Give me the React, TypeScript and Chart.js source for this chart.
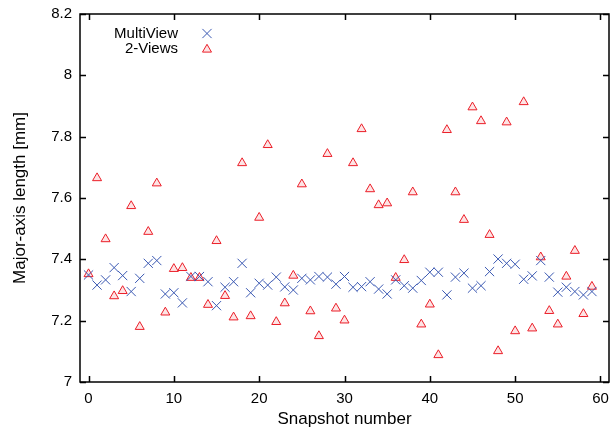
import React, { useEffect, useRef } from 'react';
import { Chart, registerables } from 'chart.js';

Chart.register(...registerables);

const snapshots = [
  0, 1, 2, 3, 4, 5, 6, 7, 8, 9, 10, 11, 12, 13, 14, 15, 16, 17, 18, 19,
  20, 21, 22, 23, 24, 25, 26, 27, 28, 29, 30, 31, 32, 33, 34, 35, 36, 37, 38, 39,
  40, 41, 42, 43, 44, 45, 46, 47, 48, 49, 50, 51, 52, 53, 54, 55, 56, 57, 58, 59,
];

const multiView = [
  7.349, 7.316, 7.333, 7.373, 7.347, 7.295, 7.338, 7.387, 7.396, 7.287,
  7.291, 7.258, 7.344, 7.344, 7.327, 7.249, 7.309, 7.327, 7.387, 7.291,
  7.322, 7.316, 7.342, 7.310, 7.300, 7.338, 7.333, 7.344, 7.342, 7.319,
  7.344, 7.309, 7.311, 7.327, 7.303, 7.287, 7.333, 7.314, 7.306, 7.331,
  7.358, 7.358, 7.284, 7.342, 7.355, 7.306, 7.314, 7.360, 7.401, 7.387,
  7.384, 7.335, 7.346, 7.396, 7.342, 7.293, 7.309, 7.295, 7.284, 7.295,
];

const twoViews = [
  7.352, 7.665, 7.466, 7.280, 7.297, 7.574, 7.180, 7.490, 7.648, 7.227,
  7.369, 7.372, 7.340, 7.340, 7.252, 7.460, 7.281, 7.211, 7.714, 7.215,
  7.536, 7.773, 7.196, 7.257, 7.347, 7.645, 7.231, 7.150, 7.744, 7.240,
  7.201, 7.714, 7.825, 7.629, 7.577, 7.583, 7.340, 7.398, 7.619, 7.188,
  7.253, 7.088, 7.822, 7.619, 7.529, 7.896, 7.851, 7.480, 7.101, 7.847,
  7.166, 7.913, 7.175, 7.407, 7.232, 7.188, 7.344, 7.428, 7.222, 7.311,
];

const xTicks = [0, 10, 20, 30, 40, 50, 60];
const yTicks = [7, 7.2, 7.4, 7.6, 7.8, 8, 8.2];
const seriesNames = ['MultiView', '2-Views'];

const BLUE = 'rgb(58, 88, 178)';
const RED = 'rgb(235, 30, 40)';
const RED_FILL = 'rgba(235, 30, 40, 0.12)';
const FONT = '"Liberation Sans", Arial, Helvetica, sans-serif';

function drawCross(ctx: CanvasRenderingContext2D, x: number, y: number, h: number) {
  ctx.beginPath();
  ctx.moveTo(x - h, y - h);
  ctx.lineTo(x + h, y + h);
  ctx.moveTo(x - h, y + h);
  ctx.lineTo(x + h, y - h);
  ctx.stroke();
}

function drawTriangle(ctx: CanvasRenderingContext2D, x: number, y: number, r: number) {
  ctx.beginPath();
  ctx.moveTo(x, y - r);
  ctx.lineTo(x + r * 0.866, y + r * 0.5);
  ctx.lineTo(x - r * 0.866, y + r * 0.5);
  ctx.closePath();
  ctx.fill();
  ctx.stroke();
}

const framePlugin = {
  id: 'gnuplotFrame',
  afterDatasetsDraw(chart: any) {
    const { ctx, chartArea, scales } = chart;
    const { left, right, top, bottom } = chartArea;
    const xs = scales.x;
    const ys = scales.y;
    ctx.save();
    ctx.strokeStyle = '#000';
    ctx.lineWidth = 1.5;
    ctx.beginPath();
    const tl = 6;
    xTicks.forEach((v) => {
      const px = Math.round(xs.getPixelForValue(v)) + 0.5;
      ctx.moveTo(px, bottom);
      ctx.lineTo(px, bottom - tl);
      ctx.moveTo(px, top);
      ctx.lineTo(px, top + tl);
    });
    yTicks.forEach((v) => {
      const py = Math.round(ys.getPixelForValue(v)) + 0.5;
      ctx.moveTo(left, py);
      ctx.lineTo(left + tl, py);
      ctx.moveTo(right, py);
      ctx.lineTo(right - tl, py);
    });
    ctx.stroke();
    ctx.strokeRect(left, top, right - left, bottom - top);

    // legend (gnuplot style: text right-aligned, sample to the right)
    ctx.font = `15px ${FONT}`;
    ctx.fillStyle = '#000';
    ctx.textAlign = 'right';
    ctx.textBaseline = 'middle';
    const tx = left + 98;
    const sx = left + 127;
    const y1 = top + 19.5;
    const y2 = top + 34.5;
    ctx.fillText(seriesNames[0], tx, y1);
    ctx.fillText(seriesNames[1], tx, y2);
    ctx.lineWidth = 1;
    ctx.strokeStyle = BLUE;
    drawCross(ctx, sx, y1, 4.6);
    ctx.strokeStyle = RED;
    ctx.fillStyle = RED_FILL;
    drawTriangle(ctx, sx, y2 + 1, 5.2);
    ctx.restore();
  },
};

export default function App() {
  const canvasRef = useRef<HTMLCanvasElement | null>(null);

  useEffect(() => {
    const canvas = canvasRef.current;
    if (!canvas) return;
    const chart = new Chart(canvas, {
      type: 'scatter',
      data: {
        datasets: [
          {
            label: seriesNames[0],
            data: snapshots.map((s, i) => ({ x: s, y: multiView[i] })),
            pointStyle: 'crossRot',
            pointRadius: 6.5,
            pointHoverRadius: 6.5,
            borderColor: BLUE,
            backgroundColor: BLUE,
            borderWidth: 1,
          },
          {
            label: seriesNames[1],
            data: snapshots.map((s, i) => ({ x: s, y: twoViews[i] })),
            pointStyle: 'triangle',
            pointRadius: 5.2,
            pointHoverRadius: 5.2,
            borderColor: RED,
            backgroundColor: RED_FILL,
            borderWidth: 1,
          },
        ],
      },
      options: {
        responsive: false,
        animation: false,
        events: [],
        layout: { autoPadding: false, padding: { top: 14, right: 3, left: 0, bottom: 0 } },
        plugins: {
          legend: { display: false },
          tooltip: { enabled: false },
        },
        scales: {
          x: {
            type: 'linear',
            min: -1,
            max: 61,
            afterBuildTicks: (s: any) => {
              s.ticks = xTicks.map((v) => ({ value: v }));
            },
            afterFit: (s: any) => {
              s.height = 47;
              s.paddingLeft = 0;
              s.paddingRight = 0;
            },
            grid: { display: false, drawTicks: false },
            border: { display: false },
            ticks: {
              color: '#000',
              font: { family: FONT, size: 15 },
              padding: 8,
              maxRotation: 0,
              autoSkip: false,
            },
            title: {
              display: true,
              text: 'Snapshot number',
              color: '#000',
              font: { family: FONT, size: 17 },
              padding: { top: 0, bottom: -1 },
            },
          },
          y: {
            type: 'linear',
            min: 7,
            max: 8.2,
            afterBuildTicks: (s: any) => {
              s.ticks = yTicks.map((v) => ({ value: v }));
            },
            afterFit: (s: any) => {
              s.width = 80;
              s.paddingTop = 0;
              s.paddingBottom = 0;
            },
            grid: { display: false, drawTicks: false },
            border: { display: false },
            ticks: {
              color: '#000',
              font: { family: FONT, size: 15 },
              padding: 8,
              autoSkip: false,
              callback: (v: any) => String(Number(Number(v).toFixed(1))),
            },
            title: {
              display: true,
              text: 'Major-axis length [mm]',
              color: '#000',
              font: { family: FONT, size: 17 },
              padding: { top: 10, bottom: 0 },
            },
          },
        },
      },
      plugins: [framePlugin],
    });
    return () => chart.destroy();
  }, []);

  return (
    <div style={{ position: 'fixed', left: 0, top: 0, width: 612, height: 429, background: '#fff' }}>
      <canvas ref={canvasRef} width={612} height={429} style={{ display: 'block' }} />
    </div>
  );
}
